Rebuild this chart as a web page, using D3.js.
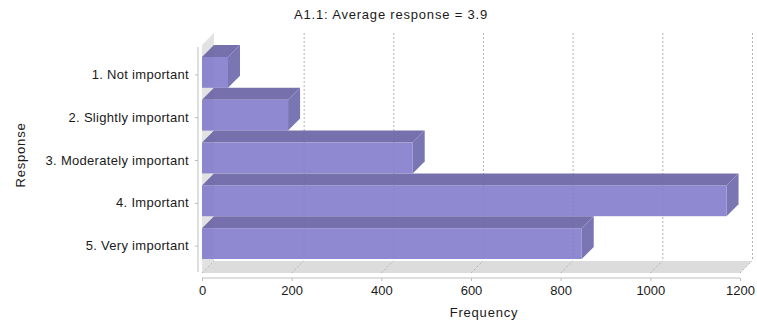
<!DOCTYPE html>
<html>
<head>
<meta charset="utf-8">
<script src="https://cdn.jsdelivr.net/npm/d3@7"></script>
<style>
  html, body { margin: 0; padding: 0; background: #fff; }
  svg { display: block; font-family: "Liberation Sans", Arial, sans-serif; }
</style>
</head>
<body>
<svg id="chart" width="757" height="323"></svg>
<script>
// Survey item A1.1 — response counts
const categories = [
  "1. Not important",
  "2. Slightly important",
  "3. Moderately important",
  "4. Important",
  "5. Very important"
];
const frequencies = [58, 192, 470, 1170, 847];
const xTicks = [0, 200, 400, 600, 800, 1000, 1200];
const titleText = "A1.1: Average response = 3.9";
const xLabel = "Frequency";
const yLabel = "Response";

const svg = d3.select("#chart");

// 3D depth offsets
const DX = 12, DY = 12;

// front plane geometry
const x = d3.scaleLinear().domain([0, 1200]).range([202, 740]);
const y = d3.scaleBand().domain(categories).range([45, 259]).padding(0);
const yAxisScale = d3.scaleBand().domain(categories).range([53.5, 267.5]).padding(0);

const floorY = 273;           // front edge of the floor
const plotTopBack = 33;        // top of back plane
const FONT = "'Liberation Sans', Arial, sans-serif";

// background wall along the category axis
svg.append("path")
  .attr("d", `M${x(0)},${floorY} L${x(0)},${plotTopBack + DY} L${x(0) + DX},${plotTopBack} L${x(0) + DX},${floorY - DY} Z`)
  .attr("fill", "#e2e2e2");

// floor
svg.append("path")
  .attr("d", `M${x(0)},${floorY} L${x(0) + DX},${floorY - DY} L${x(1200) + DX},${floorY - DY} L${x(1200)},${floorY} Z`)
  .attr("fill", "#dcdcdc");

// gridlines on the back plane and across the floor
const grid = svg.append("g").attr("stroke", "#b4b4b4").attr("stroke-width", 1).attr("stroke-dasharray", "2,2").attr("fill", "none");
grid.selectAll("line.back").data(xTicks.slice(1)).join("line")
  .attr("class", "back")
  .attr("x1", d => x(d) + DX + 0.5).attr("x2", d => x(d) + DX + 0.5)
  .attr("y1", plotTopBack).attr("y2", floorY - DY);
grid.selectAll("line.floor").data(xTicks).join("line")
  .attr("class", "floor")
  .attr("x1", d => x(d)).attr("y1", floorY)
  .attr("x2", d => x(d) + DX).attr("y2", floorY - DY);

// bars (front, top, side faces)
const data = categories.map((c, i) => ({ c, v: frequencies[i] }));
const bars = svg.append("g").attr("opacity", 0.92);
const bg = bars.selectAll("g.bar").data(data).join("g").attr("class", "bar");

bg.append("path") // top face
  .attr("d", d => {
    const t = y(d.c) + DY, x0 = x(0), x1 = x(d.v);
    return `M${x0},${t} L${x0 + DX},${t - DY} L${x1 + DX},${t - DY} L${x1},${t} Z`;
  })
  .attr("fill", "#6b66a6");

bg.append("path") // side face
  .attr("d", d => {
    const t = y(d.c) + DY, b = y(d.c) + y.bandwidth(), x1 = x(d.v);
    return `M${x1},${t} L${x1 + DX},${t - DY} L${x1 + DX},${b - DY} L${x1},${b} Z`;
  })
  .attr("fill", "#6f6aad");

bg.append("rect") // front face
  .attr("x", x(0))
  .attr("y", d => y(d.c) + DY)
  .attr("width", d => x(d.v) - x(0))
  .attr("height", y.bandwidth() - DY)
  .attr("fill", "#857fcd");

// category axis
const yAxis = d3.axisLeft(yAxisScale).tickSize(3).tickPadding(6);
const gy = svg.append("g").attr("transform", "translate(198,0)").call(yAxis);
gy.select(".domain").remove();
gy.append("line").attr("x1", 0).attr("x2", 0).attr("y1", 47).attr("y2", 272).attr("stroke", "#bdbdbd");
gy.selectAll(".tick line").attr("stroke", "#bdbdbd");
gy.selectAll(".tick text").attr("fill", "#1a1a1a").style("font-size", "13px")
  .style("letter-spacing", "0.3px").style("font-family", FONT);

// value axis
const xAxis = d3.axisBottom(x).tickValues(xTicks).tickSize(3).tickPadding(5).tickFormat(d3.format("d"));
const gx = svg.append("g").attr("transform", "translate(0,278)").call(xAxis);
gx.select(".domain").remove();
gx.append("line").attr("x1", x(0)).attr("x2", x(1200)).attr("y1", 0).attr("y2", 0).attr("stroke", "#bdbdbd");
gx.selectAll(".tick line").attr("stroke", "#bdbdbd");
gx.selectAll(".tick text").attr("fill", "#1a1a1a").style("font-size", "13px")
  .style("font-family", FONT);

// labels
svg.append("text").attr("x", 391).attr("y", 19).attr("text-anchor", "middle")
  .attr("fill", "#1a1a1a").style("font-size", "13px").style("letter-spacing", "0.8px").text(titleText);
svg.append("text").attr("x", 484).attr("y", 317).attr("text-anchor", "middle")
  .attr("fill", "#1a1a1a").style("font-size", "13px").style("letter-spacing", "0.8px").text(xLabel);
svg.append("text").attr("transform", "translate(25,155) rotate(-90)").attr("text-anchor", "middle")
  .attr("fill", "#1a1a1a").style("font-size", "13px").style("letter-spacing", "0.8px").text(yLabel);
</script>
</body>
</html>
